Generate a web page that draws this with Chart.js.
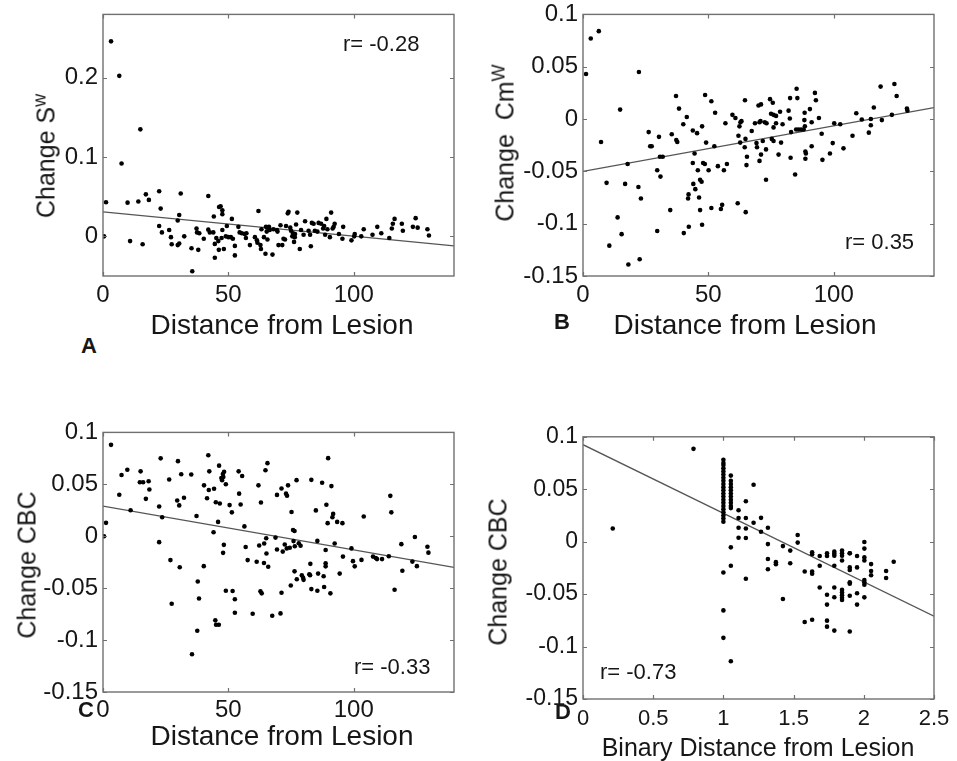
<!DOCTYPE html>
<html><head><meta charset="utf-8">
<script src="https://cdn.jsdelivr.net/npm/chart.js@4/dist/chart.umd.min.js"></script>
<style>
html,body{margin:0;padding:0;background:#fff;}
body{width:957px;height:761px;position:relative;overflow:hidden;font-family:"Liberation Sans",Arial,Helvetica,sans-serif;}
canvas.cv{position:absolute;}
.lbl{position:absolute;white-space:nowrap;color:#161616;line-height:1;}
.lbl sup{font-size:0.72em;line-height:0;}
</style></head><body>
<script>
// ---------- DATA ----------
// Panel A: Change S^w vs distance
const aX=[3.2,6.5,14.9,7.4,1.2,0.4,9.8,14.1,17.1,18.3,22.4,23,31,42,10.8,15.8,22.4,23.5,26.4,27.1,27.4,29.8,30.4,30.4,29.8,32.4,35.3,35.6,37.3,37.5,38,38.4,40.2,42,42.6,44.2,44,44.6,44.6,45.2,46,46.3,46.9,47.6,47.6,47.6,47.3,46.2,48.2,49,50,51,51.8,49.4,51.4,52.6,52.6,54,54.5,55.4,56.5,57.2,57,58.6,60.6,61.4,62,61.6,62.8,63,63.2,64.2,64.8,65,65.6,66.2,65.3,66.5,65.6,67.6,68,69.4,69.6,70.8,70,71.5,72,72.6,73,73.7,74,74.7,75,75.8,76.6,75.5,76.5,76.2,77.5,78.5,77,79,80,80.6,82,82.6,82.9,83.3,84,84.5,85.5,86,87,87.8,88.6,88.2,89.1,89.5,90.5,91,91.6,92,92.4,94.1,95.5,95.8,99.1,100.2,100.4,103,104,107.5,109.4,111,114.2,115.2,115.6,116.3,119.2,119.6,123.6,124.7,125.5,129.4,130];
const aY=[0.246,0.2025,0.135,0.092,0.043,0.0,0.0425,0.044,0.053,0.046,0.057,0.035,0.054,0.051,-0.006,-0.010,0.013,0.005,0.008,-0.001,-0.010,0.020,0.027,-0.009,-0.011,0.0,-0.015,-0.044,0.010,0.005,-0.017,0.004,-0.003,0.0085,0.005,0.025,0.005,-0.0095,-0.027,-0.002,-0.006,0.037,0.038,0.033,0.028,0.008,-0.002,-0.017,-0.016,0.0,-0.001,-0.001,-0.003,0.013,0.022,-0.012,-0.024,0.012,0.005,0.004,0.003,0.004,-0.002,-0.011,-0.001,-0.005,0.032,-0.008,-0.011,-0.016,0.009,-0.001,-0.022,0.012,0.011,0.012,0.006,0.008,-0.004,-0.023,0.009,0.008,0.006,0.014,-0.011,-0.011,-0.003,-0.004,0.013,0.029,0.031,0.011,0.007,0.004,0.003,0.0,-0.001,-0.007,0.030,-0.016,0.015,0.008,0.002,0.019,0.007,0.002,-0.0125,0.017,0.016,0.007,0.006,0.017,0.016,0.010,0.002,0.013,0.022,0.009,-0.001,0.030,0.010,0.012,0.016,0.003,-0.003,0.012,-0.005,0.0,0.003,0.0,0.009,0.002,0.012,0.004,-0.002,0.010,0.016,0.022,0.016,0.007,0.012,0.023,0.011,0.009,0.001];
const fitAX=[0,140], fitAY=[0.031,-0.012];

// Panel B: Change Cm^W vs distance
const bX=[1.2,3.1,6.3,7.2,9.4,10.5,13.8,14.8,15.4,16.8,17.8,18.1,22.1,22.3,22.6,23.1,26.2,26.8,27.4,29.6,29.6,30.3,30.7,31.8,30.9,34.8,35.4,37.1,37.2,37.6,38.3,40,40.2,41.4,41.9,42.1,42.2,43.8,43.8,44,44.5,44.8,45.5,45.8,46.3,46.7,46.7,47.3,47.5,47.5,47.9,48.6,48.7,49.1,50.1,51.2,51.2,52.4,52.7,53.8,55,55.5,56.2,56.8,57.4,59.6,60.8,61.7,62,62.4,62.8,63.2,62.7,64.6,64.9,64.8,64.5,65.4,65.2,67.3,68.6,69.2,69.4,70,70.4,70.4,71,70.8,72.5,73.2,71.7,71,73,73,74.6,75.7,75,76,77,76,77,75.3,76,78,78.6,79,79.6,82,82.5,82.6,83,82.8,84.6,85.2,85.5,85,86,87,88,88.4,88.3,88.5,88.7,88.9,88.7,90.5,91.2,91.2,92.5,92.9,94.1,95.2,95.5,98.5,99.6,100.2,102.6,103.9,107.5,109,111.2,114,114.8,114.8,116,118.7,119.2,123.2,124.2,125.1,129.2,129.4];
const bY=[0.043,0.077,0.084,-0.022,-0.061,-0.121,-0.094,0.009,-0.110,-0.062,-0.043,-0.139,-0.065,0.045,-0.134,-0.076,-0.0125,-0.026,-0.026,-0.107,-0.049,-0.017,-0.036,-0.036,-0.055,-0.087,-0.0145,0.022,-0.020,-0.022,0.010,-0.005,-0.109,0.002,-0.076,-0.072,-0.103,-0.042,-0.011,-0.062,-0.033,-0.067,-0.0135,-0.049,-0.075,-0.087,-0.058,-0.060,-0.007,-0.101,-0.042,-0.043,0.023,-0.0225,-0.049,0.017,-0.085,-0.026,0.006,-0.045,-0.086,-0.082,-0.049,-0.004,-0.043,0.004,0.001,-0.0805,-0.016,-0.007,-0.003,-0.002,-0.0225,0.018,-0.089,-0.019,-0.027,-0.036,-0.044,-0.0115,-0.004,-0.023,-0.027,0.013,-0.003,-0.040,0.014,-0.002,-0.003,-0.004,-0.021,-0.034,-0.029,-0.058,0.019,0.0155,0.005,0.004,0.003,-0.008,-0.004,-0.019,-0.021,-0.034,0.007,-0.0225,-0.005,0.008,0.0005,0.020,-0.0125,-0.037,-0.053,0.029,0.020,-0.010,-0.010,-0.010,-0.010,0.006,-0.001,-0.007,-0.031,-0.033,-0.038,0.0095,-0.026,-0.003,0.025,0.018,0.001,-0.014,-0.039,-0.033,-0.023,-0.004,-0.005,-0.028,-0.016,0.0055,-0.0005,-0.013,0.0,-0.006,0.011,0.031,-0.001,0.004,0.0335,0.022,0.010,0.008];
const fitBX=[0,140], fitBY=[-0.050,0.011];

// Panel C: Change CBC vs distance
const cX=[3.2,1.2,0.4,6.5,7.4,9.7,11,14.7,16,15,17.1,18.2,18.5,22.4,22.4,23,23.6,26.4,26.9,27.4,29.6,29.9,30.4,30.6,31.2,32.3,35.2,35.5,37.3,37.6,37.8,38.3,40.2,40.3,41.5,42,42.2,42.4,44.1,44.3,45.1,46.2,44.8,45,45.9,46.3,46.6,47.2,47.5,48,48.3,47.8,48.2,47.9,49,49,50.5,51.4,51.7,52.6,52.6,54.1,54.3,54.9,55.5,56.4,56.9,57.7,59.7,61.3,62,62.3,62.8,63.3,63,64.2,64.3,64.8,65.1,65.2,65.6,65.9,67.5,68.8,69.4,69.4,70.8,71.2,71.2,71.7,72.5,73,73.4,73.3,73.8,74.5,74.9,75.2,75.8,76.4,76,76.5,76.4,77.2,77.3,78.1,78.8,79.3,79.8,80,82.3,82.6,82.7,83.1,83.1,84.9,85.5,85.5,85.8,87.4,88,88.2,88.8,88.8,88.8,89.1,89.6,89.8,90.7,91.1,91.5,91.8,92.4,93.4,94.4,95.5,95.7,99.1,99.7,100.4,103.1,104,107.7,108.8,109.3,111.3,114,114.6,115,116.3,119,119.4,123.4,124.4,125.2,129.4,129.8];
const cY=[0.088,0.0129,0.0,0.040,0.059,0.064,0.025,0.052,0.052,0.0625,0.036,0.053,0.045,0.0287,-0.0057,0.075,0.0183,0.0546,-0.023,-0.065,0.0344,0.0723,0.0297,-0.0298,0.0597,0.037,0.0594,-0.1137,0.0195,-0.091,-0.0436,-0.060,-0.0288,0.049,0.0366,0.078,0.0445,0.0625,0.0038,0.0458,-0.0853,-0.0853,-0.081,0.0328,0.0138,0.068,0.0316,0.056,0.054,0.057,0.062,0.060,-0.0083,-0.016,0.050,-0.0525,0.030,0.023,-0.0528,-0.0607,-0.0737,0.0625,0.041,0.0306,0.058,0.0095,-0.0104,-0.023,-0.0746,-0.0246,0.049,-0.0089,-0.053,-0.055,0.0325,-0.0257,-0.007,0.0635,-0.0019,-0.0166,0.0704,-0.0294,-0.0765,-0.0013,0.0398,-0.0128,-0.0743,-0.0544,0.046,-0.0148,-0.0079,0.041,0.039,-0.0117,0.049,-0.0111,-0.0474,0.0233,0.006,0.005,-0.0047,-0.0096,-0.0338,0.054,-0.0414,-0.0067,-0.0092,-0.0376,-0.040,-0.042,-0.0367,-0.0375,-0.0266,0.0543,-0.0509,0.0249,-0.0045,-0.0525,-0.036,0.0515,-0.0386,-0.0489,-0.0133,-0.026,-0.029,0.0303,0.0126,0.0752,-0.055,0.0483,0.0183,0.0215,-0.007,0.0138,-0.036,0.0126,-0.0196,-0.0117,-0.024,-0.029,-0.0228,0.019,-0.0196,-0.021,-0.022,-0.022,-0.0193,0.0389,0.023,-0.0515,-0.0076,-0.0332,-0.0244,-0.0007,-0.0288,-0.0101,-0.0158];
const fitCX=[0,140], fitCY=[0.029,-0.030];

// Panel D: Change CBC vs binary distance
const dX=[0.787,0.212,1,1,1,1,1,1,1,1,1,1,1,1,1,1,1,1,1,1,1,1,1,1,1,1,1.053,1.053,1.053,1.053,1.053,1.053,1.053,1.053,1.053,1.053,1.053,1.053,1.053,1.053,1.108,1.108,1.108,1.108,1.16,1.16,1.16,1.16,1.16,1.215,1.215,1.268,1.268,1.317,1.317,1.317,1.317,1.374,1.374,1.424,1.424,1.476,1.476,1.529,1.529,1.579,1.579,1.632,1.632,1.632,1.632,1.632,1.686,1.686,1.686,1.738,1.738,1.738,1.738,1.738,1.738,1.79,1.79,1.79,1.79,1.79,1.79,1.79,1.845,1.845,1.845,1.845,1.845,1.845,1.845,1.845,1.845,1.9,1.9,1.9,1.9,1.9,1.9,1.9,1.9,1.952,1.952,1.952,1.952,2.004,2.004,2.004,2.004,2.004,2.004,2.004,2.004,2.052,2.052,2.052,2.159,2.159,2.213];
const dY=[0.0885,0.0126,0.078,0.075,0.073,0.070,0.067,0.064,0.061,0.058,0.055,0.052,0.049,0.046,0.043,0.040,0.037,0.034,0.031,0.028,0.025,0.022,0.019,-0.0294,-0.0655,-0.0917,0.063,0.058,0.055,0.052,0.049,0.046,0.043,0.040,0.037,0.034,0.032,-0.0054,-0.023,-0.114,0.030,0.0226,0.0133,0.0038,0.0385,0.0226,0.0126,0.0035,-0.0354,0.0543,0.018,0.0227,0.0095,0.0133,-0.0023,-0.0165,-0.0263,-0.0195,-0.0215,-0.0042,-0.0547,-0.0085,-0.0206,0.0063,-0.0009,-0.0285,-0.0766,-0.0101,-0.012,-0.0285,-0.0305,-0.0744,-0.0136,-0.023,-0.0437,-0.011,-0.0136,-0.0506,-0.060,-0.0753,-0.081,-0.0095,-0.0115,-0.0133,-0.023,-0.0437,-0.053,-0.0848,-0.0085,-0.011,-0.0133,-0.018,-0.046,-0.0485,-0.051,-0.0535,-0.0556,-0.0111,-0.0245,-0.027,-0.0388,-0.040,-0.0515,-0.0857,-0.0111,-0.0136,-0.0245,-0.0491,-0.060,-0.0003,-0.0066,-0.015,-0.018,-0.0366,-0.0388,-0.041,-0.0531,-0.0214,-0.028,-0.032,-0.028,-0.0347,-0.0192];
const fitDX=[0,2.5], fitDY=[0.0925,-0.071];

// Ticks
const xTicksDist=[0,50,100], xLabelsDist=['0','50','100'];
const yTicksA=[0,0.1,0.2], yLabelsA=['0','0.1','0.2'];
const yTicksCm=[-0.15,-0.1,-0.05,0,0.05,0.1], yLabelsCm=['-0.15','-0.1','-0.05','0','0.05','0.1'];
const xTicksBin=[0,0.5,1,1.5,2,2.5], xLabelsBin=['0','0.5','1','1.5','2','2.5'];

// ---------- LAYOUT ----------
const FONT='"Liberation Sans", Arial, Helvetica, sans-serif';
const panels=[
  {xs:aX,ys:aY,fx:fitAX,fy:fitAY,xr:[0,140],yr:[-0.05,0.28],xt:xTicksDist,xl:xLabelsDist,yt:yTicksA,yl:yLabelsA,box:[103,14,454,277],fsx:24,fsy:24,px:5},
  {xs:bX,ys:bY,fx:fitBX,fy:fitBY,xr:[0,140],yr:[-0.15,0.1],xt:xTicksDist,xl:xLabelsDist,yt:yTicksCm,yl:yLabelsCm,box:[583,14,934,277],fsx:24,fsy:24,px:5},
  {xs:cX,ys:cY,fx:fitCX,fy:fitCY,xr:[0,140],yr:[-0.15,0.1],xt:xTicksDist,xl:xLabelsDist,yt:yTicksCm,yl:yLabelsCm,box:[103,432,454,693],fsx:24,fsy:24,px:4},
  {xs:dX,ys:dY,fx:fitDX,fy:fitDY,xr:[0,2.5],yr:[-0.15,0.1],xt:xTicksBin,xl:xLabelsBin,yt:yTicksCm,yl:yLabelsCm,box:[583,437,934,700],fsx:22,fsy:23,px:7}
];

const boxPlugin={id:'mbox',afterDatasetsDraw(c){
  const {ctx,chartArea:a,scales:{x,y}}=c; const tl=4;
  ctx.save();
  ctx.strokeStyle='#707070'; ctx.lineWidth=1.4;
  ctx.strokeRect(a.left,a.top,a.right-a.left,a.bottom-a.top);
  ctx.lineWidth=1.2; ctx.beginPath();
  x.ticks.forEach(t=>{const p=Math.round(x.getPixelForValue(t.value))+0.5;
    ctx.moveTo(p,a.bottom);ctx.lineTo(p,a.bottom-tl);ctx.moveTo(p,a.top);ctx.lineTo(p,a.top+tl);});
  y.ticks.forEach(t=>{const p=Math.round(y.getPixelForValue(t.value))+0.5;
    ctx.moveTo(a.left,p);ctx.lineTo(a.left+tl,p);ctx.moveTo(a.right,p);ctx.lineTo(a.right-tl,p);});
  ctx.stroke(); ctx.restore();
}};

function makePanel(p){
  const M={l:80,t:18,r:30,b:50};
  const [L,T,R,B]=p.box;
  let W=R-L+M.l+M.r, H=B-T+M.t+M.b;
  const cv=document.createElement('canvas');
  cv.className='cv'; cv.width=W; cv.height=H;
  cv.style.width=W+'px'; cv.style.height=H+'px';
  cv.style.left=(L-M.l)+'px'; cv.style.top=(T-M.t)+'px';
  document.body.appendChild(cv);
  const pts=p.xs.map((x,i)=>({x:x,y:p.ys[i]}));
  const fit=p.fx.map((x,i)=>({x:x,y:p.fy[i]}));
  const chart=new Chart(cv,{
    type:'scatter',
    data:{datasets:[
      {data:pts,pointRadius:2.3,pointHoverRadius:2.3,pointBackgroundColor:'#000',pointBorderWidth:0,order:1},
      {data:fit,type:'line',showLine:true,borderColor:'#555555',borderWidth:1.3,pointRadius:0,fill:false,order:2}
    ]},
    options:{
      responsive:false,animation:false,devicePixelRatio:1,
      layout:{padding:{left:0,top:M.t,right:M.r,bottom:0}},
      plugins:{legend:{display:false},tooltip:{enabled:false}},
      events:[],
      scales:{
        x:{type:'linear',min:p.xr[0],max:p.xr[1],
          afterFit:s=>{s.height=M.b;},
          afterBuildTicks:s=>{s.ticks=p.xt.map(v=>({value:v}));},
          grid:{display:false,drawTicks:false},border:{display:false},
          ticks:{callback:(v,i)=>p.xl[i],font:{family:FONT,size:p.fsx},color:'#161616',padding:p.px,maxRotation:0,autoSkip:false}},
        y:{type:'linear',min:p.yr[0],max:p.yr[1],
          afterFit:s=>{s.width=M.l;},
          afterBuildTicks:s=>{s.ticks=p.yt.map(v=>({value:v}));},
          grid:{display:false,drawTicks:false},border:{display:false},
          ticks:{callback:(v,i)=>p.yl[i],font:{family:FONT,size:p.fsy},color:'#161616',padding:5,autoSkip:false}}
      }
    },
    plugins:[boxPlugin]
  });
  for(let k=0;k<2;k++){
    const a=chart.chartArea;
    const dw=(R-L)-(a.right-a.left), dh=(B-T)-(a.bottom-a.top);
    if(Math.abs(dw)>0.5||Math.abs(dh)>0.5){W+=dw;H+=dh;cv.style.width=W+'px';cv.style.height=H+'px';chart.resize(W,H);}
  }
  const a=chart.chartArea;
  cv.style.left=(L-a.left)+'px'; cv.style.top=(T-a.top)+'px';
}
panels.forEach(makePanel);

// ---------- TEXT ----------
const texts=[
  {h:'Change S<sup>w</sup>',x:46,y:156,s:25,rot:1},
  {h:'Change&nbsp; Cm<sup>W</sup>',x:505,y:143,s:25,rot:1},
  {h:'Change CBC',x:27,y:565,s:25,rot:1},
  {h:'Change CBC',x:498,y:572,s:25,rot:1},
  {h:'Distance from Lesion',x:282,y:325,s:28},
  {h:'Distance from Lesion',x:745,y:325,s:28},
  {h:'Distance from Lesion',x:282,y:736,s:28},
  {h:'Binary Distance from Lesion',x:758,y:747,s:25},
  {h:'r= -0.28',x:343,y:44,s:22,left:1},
  {h:'r= 0.35',x:845,y:242,s:22,left:1},
  {h:'r= -0.33',x:354,y:667,s:22,left:1},
  {h:'r= -0.73',x:600,y:672,s:22,left:1},
  {h:'A',x:89,y:346,s:22,b:1},
  {h:'B',x:562,y:322,s:22,b:1},
  {h:'C',x:86,y:710,s:22,b:1},
  {h:'D',x:563,y:712,s:22,b:1}
];
texts.forEach(t=>{
  const d=document.createElement('div'); d.className='lbl'; d.innerHTML=t.h;
  d.style.fontSize=t.s+'px'; if(t.b) d.style.fontWeight='bold';
  d.style.left=t.x+'px'; d.style.top=t.y+'px';
  d.style.transform=t.rot?'translate(-50%,-50%) rotate(-90deg)':(t.left?'translate(0,-50%)':'translate(-50%,-50%)');
  document.body.appendChild(d);
});
</script>
</body></html>
